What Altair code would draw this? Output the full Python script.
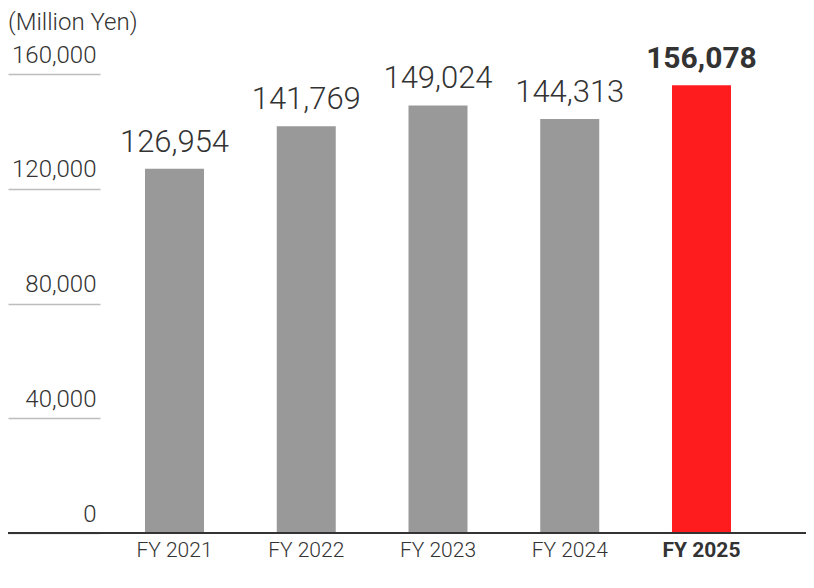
import altair as alt
import pandas as pd

fiscal_years = ["FY 2021", "FY 2022", "FY 2023", "FY 2024", "FY 2025"]
revenue = [126954, 141769, 149024, 144313, 156078]
highlight = [False, False, False, False, True]
y_ticks = [0, 40000, 80000, 120000, 160000]
unit_label = "(Million Yen)"

df = pd.DataFrame({"fy": fiscal_years, "value": revenue, "hl": highlight})

FONT = "Roboto"
TEXT = "#333333"
W = 798

x = alt.X(
    "fy:N",
    sort=fiscal_years,
    scale=alt.Scale(range=[137, 723], paddingInner=0.552, paddingOuter=0),
    axis=alt.Axis(
        title=None, domain=False, ticks=False, labelAngle=0,
        labelFont=FONT, labelFontSize=21, labelColor=TEXT,
        labelFontWeight={"condition": {"test": "datum.value === 'FY 2025'", "value": "bold"}, "value": 300},
        labelPadding=6,
    ),
)
y = alt.Y(
    "value:Q",
    scale=alt.Scale(domain=[0, 160000], nice=False),
    axis=alt.Axis(
        title=None, orient="left", offset=-92, domain=False, grid=False,
        ticks=True, tickSize=92, tickColor="#bdbdbd", tickWidth=1.5,
        values=y_ticks, format=",.0f",
        labelFont=FONT, labelFontSize=24, labelFontWeight=300, labelColor=TEXT,
        labelAlign="right", labelBaseline="alphabetic",
        labelPadding=-88, labelOffset=-12,
    ),
)

base = alt.Chart(df)

bars = base.mark_bar(size=59).encode(
    x=x, y=y,
    color=alt.condition("datum.hl", alt.value("#ff1c1f"), alt.value("#999999")),
)

labels_normal = base.transform_filter("!datum.hl").mark_text(
    font=FONT, fontSize=31, fontWeight=300, color=TEXT,
    baseline="alphabetic", dy=-17,
).encode(x=x, y=y, text=alt.Text("value:Q", format=",.0f"))

labels_bold = base.transform_filter("datum.hl").mark_text(
    font=FONT, fontSize=30, fontWeight="bold", color=TEXT,
    baseline="alphabetic", dy=-17,
).encode(x=x, y=y, text=alt.Text("value:Q", format=",.0f"))

baseline = base.mark_rule(color="#333333", strokeWidth=2).encode(
    x=alt.value(0), x2=alt.value(W), y=alt.datum(0),
)

unit = alt.Chart(pd.DataFrame({"t": [unit_label]})).mark_text(
    font=FONT, fontSize=24, fontWeight=300, color=TEXT,
    align="left", baseline="alphabetic",
).encode(text="t:N", x=alt.value(0), y=alt.value(-44))

chart = alt.layer(bars, baseline, labels_normal, labels_bold, unit).properties(
    width=W, height=459,
    autosize=alt.AutoSizeParams(type="none"),
    padding={"left": 0, "top": 66, "right": 0, "bottom": 40},
).configure_view(stroke=None)

chart.save("out.html", embed_options={"renderer": "svg", "actions": False})
